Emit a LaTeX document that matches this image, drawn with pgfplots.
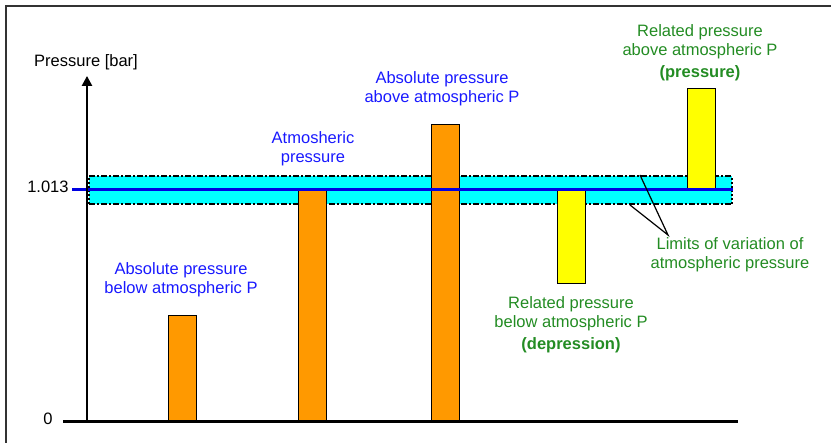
\documentclass[border=0pt]{standalone}
\usepackage{pgfplots}
\pgfplotsset{compat=1.18}
\usetikzlibrary{arrows.meta}
\usepackage{fontspec}
\setmainfont{Liberation Sans}
\definecolor{txtblue}{RGB}{25,25,255}
\definecolor{linblue}{RGB}{0,0,225}
\definecolor{txtgreen}{RGB}{35,140,35}
\definecolor{barorange}{RGB}{255,153,0}
\definecolor{bandcyan}{RGB}{0,255,255}
\definecolor{baryellow}{RGB}{255,255,0}
\begin{document}
\begin{tikzpicture}[every node/.style={font=\fontsize{8.25}{9.5}\selectfont, inner sep=0pt, align=center}]
\begin{axis}[at={(0,0)}, anchor=south west, scale only axis,
  width=415.5pt, height=221.5pt,
  xmin=0, xmax=831, ymin=-0.0917, ymax=1.8426,
  hide axis, clip=false]
% outer frame
\addplot[draw=black!80, line width=1pt] coordinates {(6,-0.2) (6,1.8164) (845,1.8164)};
% band of variation
\addplot[fill=bandcyan, draw=none] coordinates {(89,0.952) (732,0.952) (732,1.074) (89,1.074)} -- cycle;
\addplot[black, line width=1pt, dash pattern=on 3pt off 1pt on 1pt off 1pt] coordinates {(89,1.074) (732,1.074)};
\addplot[black, line width=1pt, dash pattern=on 3pt off 1pt on 1pt off 1pt] coordinates {(89,0.952) (732,0.952)};
\addplot[black, line width=1pt, dash pattern=on 1pt off 1pt] coordinates {(732,0.952) (732,1.074)};
\addplot[black, line width=1pt, dash pattern=on 1pt off 1pt] coordinates {(89,0.952) (89,1.074)};
% bars: absolute pressures (orange)
\addplot[fill=barorange, draw=black, line width=0.5pt] coordinates {(168,0) (196,0) (196,0.467) (168,0.467)} -- cycle;
\addplot[fill=barorange, draw=black, line width=0.5pt] coordinates {(298,0) (326,0) (326,1.013) (298,1.013)} -- cycle;
\addplot[fill=barorange, draw=black, line width=0.5pt] coordinates {(431,0) (459,0) (459,1.301) (431,1.301)} -- cycle;
% bars: related pressures (yellow)
\addplot[fill=baryellow, draw=black, line width=0.5pt] coordinates {(557,1.013) (585,1.013) (585,0.603) (557,0.603)} -- cycle;
\addplot[fill=baryellow, draw=black, line width=0.5pt] coordinates {(687,1.013) (715,1.013) (715,1.458) (687,1.458)} -- cycle;
% atmospheric pressure line
\addplot[linblue, line width=1.5pt] coordinates {(72,1.013) (733,1.013)};
% axes
\addplot[black, line width=1.5pt] coordinates {(63,0) (738,0)};
\addplot[black, line width=1.2pt, -{Triangle[width=5pt,length=5pt]}] coordinates {(87,-0.003) (87,1.511)};
% pointer lines
\addplot[black, line width=0.6pt] coordinates {(640,1.0785) (668,0.8165) (630,0.9475)};
% labels
\node at (axis cs:86,1.572) {Pressure [bar]};
\node[anchor=east] at (axis cs:69,1.026) {1.013};
\node at (axis cs:48,0.013) {0};
\node[text=txtblue] at (axis cs:313,1.192) {Atmosheric\\pressure};
\node[text=txtblue] at (axis cs:442,1.456) {Absolute pressure\\above atmospheric P};
\node[text=txtblue] at (axis cs:181,0.622) {Absolute pressure\\below atmospheric P};
\node[text=txtgreen] at (axis cs:700,1.611) {Related pressure\\above atmospheric P\\[1.5pt]\textbf{(pressure)}};
\node[text=txtgreen] at (axis cs:571,0.4236) {Related pressure\\below atmospheric P\\[1.5pt]\textbf{(depression)}};
\node[text=txtgreen] at (axis cs:730,0.7314) {Limits of variation of\\atmospheric pressure};
\end{axis}
\pgfresetboundingbox
\useasboundingbox (current axis.south west) rectangle (current axis.north east);
\end{tikzpicture}
\end{document}
